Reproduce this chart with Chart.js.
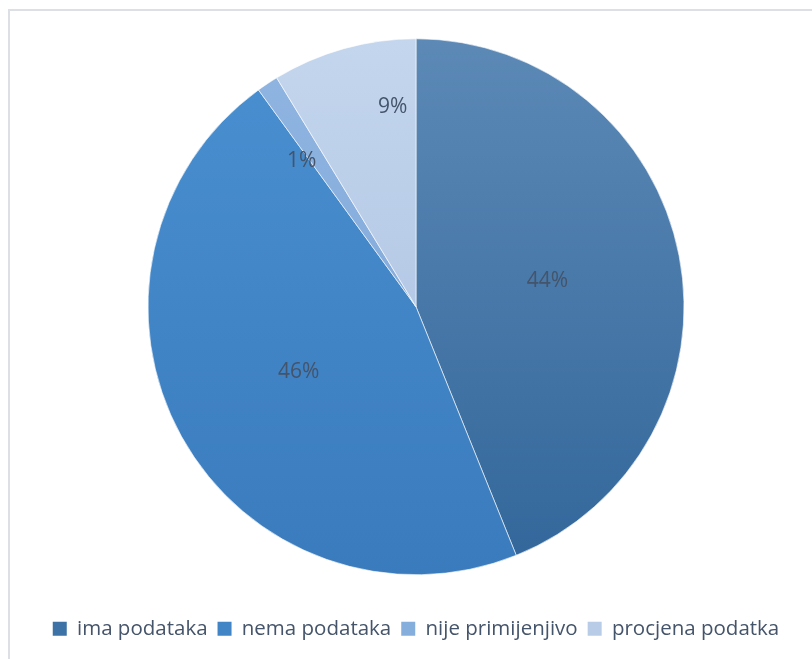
<!DOCTYPE html>
<html lang="hr">
<head>
  <meta charset="UTF-8" />
  <title>Pie - podaci</title>
  <script src="https://cdn.jsdelivr.net/npm/chart.js"></script>
  <style>
    html, body {
      margin: 0;
      padding: 0;
      background: #fff;
      overflow: hidden;
    }
    .frame {
      position: absolute;
      left: 8px;
      top: 9px;
      width: 900px;
      height: 700px;
      border-left: 2px solid #dcdfe6;
      border-top: 2px solid #dcdfe6;
    }
    #pie {
      position: absolute;
      left: 0;
      top: 0;
    }
  </style>
</head>
<body>
  <div class="frame"></div>
  <canvas id="pie" width="812" height="659"></canvas>

  <script>
    // data
    const categories = ["ima podataka", "nema podataka", "nije primijenjivo", "procjena podatka"];
    const shares = [43.9, 46.1, 1.3, 8.7];

    // look
    const gradTop = ["#5c89b6", "#4a90d1", "#90b5e2", "#c4d6ed"];
    const gradBottom = ["#32669a", "#3a7bbd", "#7aa3d6", "#a6bde0"];
    const legendFill = ["#3d72a6", "#4285c6", "#86aedd", "#b8cce8"];
    const labelRadius = [0.5, 0.5, 0.69, 0.75];
    const labelTurn = [0, 0, -4.5, 9]; // degrees, Excel "best fit" nudges
    const textColor = "#44546a";

    function sliceGradient(ctx) {
      const chart = ctx.chart;
      const area = chart.chartArea;
      if (!area) return gradTop[ctx.dataIndex];
      const arc = chart.getDatasetMeta(0).data[ctx.dataIndex];
      const cy = arc && arc.y ? arc.y : (area.top + area.bottom) / 2;
      const r = arc && arc.outerRadius ? arc.outerRadius : 268;
      const g = chart.ctx.createLinearGradient(0, cy - r, 0, cy + r);
      g.addColorStop(0, gradTop[ctx.dataIndex]);
      g.addColorStop(1, gradBottom[ctx.dataIndex]);
      return g;
    }

    const pctLabels = {
      id: "pctLabels",
      afterDatasetsDraw(chart) {
        const c = chart.ctx;
        const ds = chart.data.datasets[0].data;
        const total = ds.reduce((a, b) => a + b, 0);
        c.save();
        c.font = "21px 'Open Sans'";
        c.fillStyle = textColor;
        c.textAlign = "center";
        c.textBaseline = "middle";
        chart.getDatasetMeta(0).data.forEach((arc, i) => {
          const mid = (arc.startAngle + arc.endAngle) / 2 + labelTurn[i] * Math.PI / 180;
          const d = arc.outerRadius * labelRadius[i];
          const x = arc.x + Math.cos(mid) * d;
          const y = arc.y + Math.sin(mid) * d;
          c.fillText(Math.round(ds[i] / total * 100) + "%", x, y);
        });
        c.restore();
      }
    };

    new Chart(document.getElementById("pie").getContext("2d"), {
      type: "pie",
      data: {
        labels: categories,
        datasets: [{
          data: shares,
          backgroundColor: sliceGradient,
          borderColor: "rgba(255,255,255,0.6)",
          borderWidth: 1,
          radius: 268
        }]
      },
      options: {
        responsive: false,
        animation: false,
        layout: {
          padding: { left: 20, right: 0, top: 5, bottom: 10 }
        },
        plugins: {
          tooltip: { enabled: false },
          legend: {
            position: "bottom",
            labels: {
              boxWidth: 14,
              boxHeight: 14,
              padding: 10,
              color: textColor,
              font: { family: "'Open Sans'", size: 20.5 },
              generateLabels(chart) {
                return chart.data.labels.map((text, i) => ({
                  text: text,
                  fillStyle: legendFill[i],
                  strokeStyle: legendFill[i],
                  lineWidth: 0,
                  fontColor: textColor,
                  index: i
                }));
              }
            }
          }
        }
      },
      plugins: [pctLabels]
    });
  </script>
</body>
</html>
